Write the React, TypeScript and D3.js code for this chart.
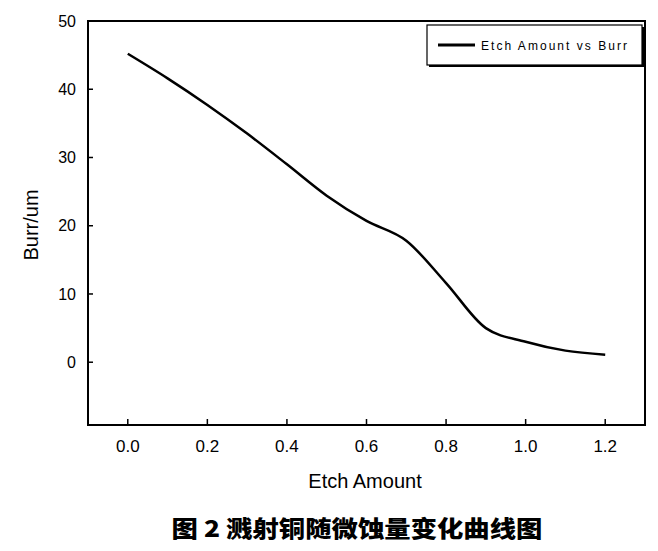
import * as d3 from 'd3';

// Etch amount (x) vs burr height in um (y)
const etchAmount = [0, 0.1, 0.2, 0.3, 0.4, 0.5, 0.6, 0.7, 0.8, 0.9, 1.0, 1.1, 1.2];
const burr = [45.2, 41.6, 37.7, 33.5, 29.0, 24.4, 20.7, 17.8, 11.6, 5.0, 3.0, 1.7, 1.1];
const xTicks = [0, 0.2, 0.4, 0.6, 0.8, 1.0, 1.2];
const yTicks = [0, 10, 20, 30, 40, 50];
const legendLabel = 'Etch Amount vs Burr';
const xTitle = 'Etch Amount';
const yTitle = 'Burr/um';
const caption = '图 2 溅射铜随微蚀量变化曲线图';

const width = 658;
const height = 551;
const marginLeft = 88;
const marginRight = 13;
const marginTop = 21;
const plotBottom = 425;
const font = '"Liberation Sans", Arial, sans-serif';

export default function App() {
  const x = d3.scaleLinear([-0.1, 1.3], [marginLeft, width - marginRight]);
  const y = d3.scaleLinear([-9.2, 50], [plotBottom, marginTop]);
  const line = d3
    .line<number>((d, i) => x(etchAmount[i]), (d) => y(d))
    .curve(d3.curveMonotoneX);

  const lx = 427;
  const ly = 25;
  const lw = 215;
  const lh = 40;

  return (
    <svg
      width={width}
      height={height}
      style={{ position: 'absolute', left: 0, top: 0, background: '#fff' }}
    >
      <rect width={width} height={height} fill="#fff" />

      {/* frame */}
      <rect
        x={marginLeft}
        y={marginTop}
        width={width - marginRight - marginLeft}
        height={plotBottom - marginTop}
        fill="none"
        stroke="#000"
        strokeWidth={2}
      />

      {/* x ticks, pointing inward */}
      <g fontFamily={font} fontSize={17} textAnchor="middle" fill="#000">
        {xTicks.map((t) => (
          <g key={t}>
            <line x1={x(t)} x2={x(t)} y1={plotBottom} y2={plotBottom - 6} stroke="#000" strokeWidth={1.5} />
            <text x={x(t)} y={452}>
              {t.toFixed(1)}
            </text>
          </g>
        ))}
      </g>

      {/* y ticks */}
      <g fontFamily={font} fontSize={16} textAnchor="end" fill="#000">
        {yTicks.map((t) => (
          <g key={t}>
            <line x1={marginLeft} x2={marginLeft + 5} y1={y(t)} y2={y(t)} stroke="#000" strokeWidth={1.5} />
            <text x={76} y={y(t)} dy="0.36em">
              {t}
            </text>
          </g>
        ))}
      </g>

      {/* axis titles */}
      <text x={365} y={488} fontFamily={font} fontSize={20} textAnchor="middle">
        {xTitle}
      </text>
      <text
        transform="translate(38,225) rotate(-90)"
        fontFamily={font}
        fontSize={20}
        textAnchor="middle"
      >
        {yTitle}
      </text>

      {/* data */}
      <path d={line(burr) ?? ''} fill="none" stroke="#000" strokeWidth={2.5} strokeLinejoin="round" />

      {/* legend with drop shadow */}
      <rect x={lx + 2} y={ly + 2} width={lw} height={lh} fill="#000" />
      <rect x={lx} y={ly} width={lw} height={lh} fill="#fff" stroke="#000" strokeWidth={1.2} />
      <line x1={438} x2={475} y1={45} y2={45} stroke="#000" strokeWidth={3} />
      <text
        x={481}
        y={50}
        fontFamily={font}
        fontSize={12}
        textLength={146}
        lengthAdjust="spacing"
      >
        {legendLabel}
      </text>

      {/* caption */}
      <text
        x={357}
        y={537}
        fontFamily='"Noto Sans CJK SC", sans-serif'
        fontWeight={900}
        fontSize={23}
        textAnchor="middle"
        textLength={371}
        lengthAdjust="spacingAndGlyphs"
      >
        {caption}
      </text>
    </svg>
  );
}
